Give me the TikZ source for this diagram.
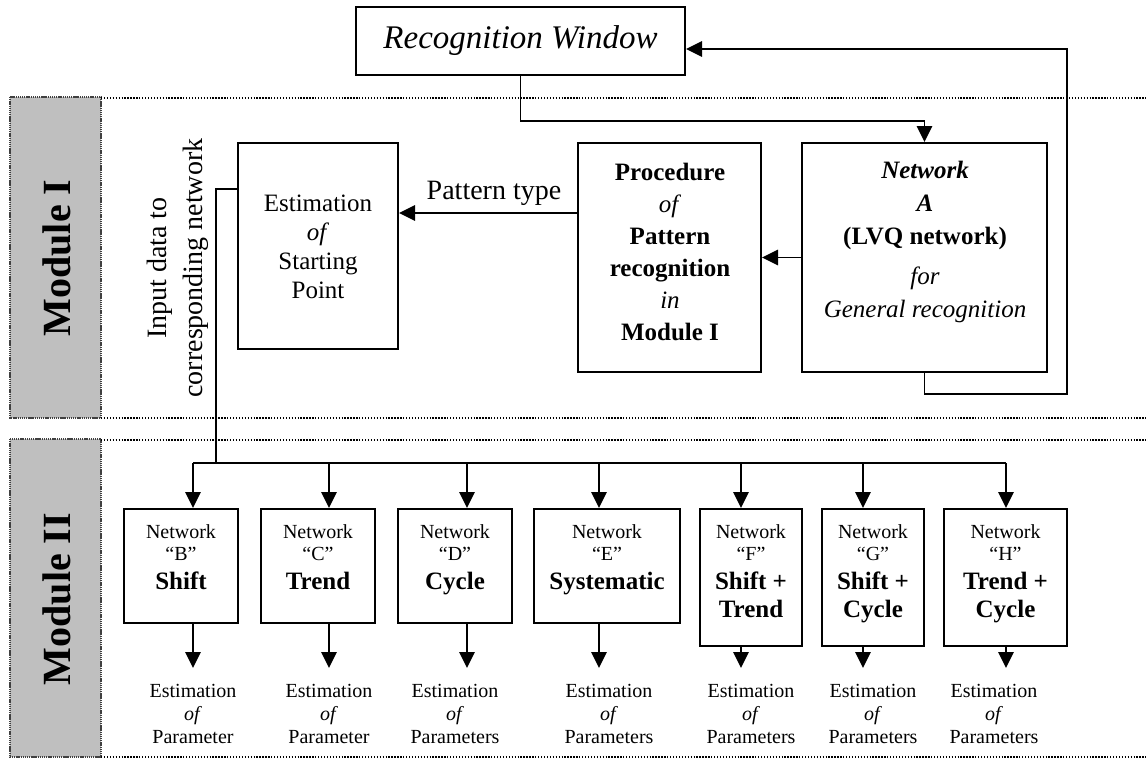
\documentclass[tikz,border=0pt]{standalone}
\usepackage{fontspec}
\setmainfont{Liberation Serif}
\usetikzlibrary{arrows.meta}
\begin{document}
\begin{tikzpicture}[x=0.75pt,y=-0.75pt,
  box/.style={draw, line width=1.5pt, inner sep=0pt},
  conn/.style={line width=1.35pt},
  arr/.style={conn, -{Triangle[length=12pt,width=11.5pt]}},
  dotline/.style={line width=1.3pt, dash pattern=on 1pt off 1.2pt},
  modbox/.style={fill=black!25, draw=black!75, line width=1pt, dash pattern=on 1pt off 0.6pt},
  txt/.style={align=center, inner sep=0pt},
  midfont/.style={font=\fontsize{18.75}{24}\selectfont},
  netfont/.style={font=\fontsize{15}{16.5}\selectfont},
  estfont/.style={font=\fontsize{15}{17.25}\selectfont},
  lowtxt/.style={txt, netfont, anchor=north},
]
\useasboundingbox (0,0) rectangle (1146,760);

% module bands
\draw[modbox] (10,97) rectangle (101,418);
\draw[modbox] (10,439) rectangle (101,757);
\node[rotate=90, font=\fontsize{30}{30}\selectfont\bfseries] (m1) at (57,258) {Module I};
\node[rotate=90, font=\fontsize{30}{30}\selectfont\bfseries] (m2) at (57,599) {Module II};
\draw[dotline] (101,98) -- (1146,98);
\draw[dotline] (101,418) -- (1146,418);
\draw[dotline] (101,440) -- (1146,440);
\draw[dotline] (101,757) -- (1146,757);

% top boxes
\node[box, minimum width=246.75pt, minimum height=51pt, font=\fontsize{24.75}{28}\selectfont\itshape] (RW) at (520.5,41) {Recognition Window};
\node[box, minimum width=120pt, minimum height=154.5pt] (E) at (318,246) {};
\node[txt, font=\fontsize{18.75}{21.75}\selectfont] (Et) at (318,247) {Estimation\\\textit{of}\\Starting\\Point};
\node[box, minimum width=137.25pt, minimum height=171.75pt] (P) at (669.5,257.5) {};
\node[txt, midfont] (Pt) at (670,252) {\textbf{Procedure}\\\textit{of}\\\textbf{Pattern}\\\textbf{recognition}\\\textit{in}\\\textbf{Module I}};
\node[box, minimum width=183.75pt, minimum height=171.75pt] (A) at (924.5,257.5) {};
\node[txt, font=\fontsize{18.75}{24.6}\selectfont] (At) at (925,242) {\textbf{\textit{Network}}\\\textbf{\textit{A}}\\\textbf{(LVQ network)}\\[6pt]\textit{for}\\\textit{General recognition}};

\node[txt, font=\fontsize{21}{27}\selectfont, rotate=90] (inp) at (178,268) {Input data to\\corresponding network};
\node[txt, font=\fontsize{21}{24}\selectfont] (ptype) at (494,193) {Pattern type};

% connectors in module I
\coordinate (rwA) at (924.5,121);
\draw[arr] (RW.south) |- (rwA) -- (A.north);
\coordinate (fbA) at (1067,394);
\coordinate (fbB) at (1067,49);
\draw[arr] (A.south) |- (fbA) -- (fbB) -- (RW.east |- fbB);
\draw[arr] (A.west) -- (P.east);
\coordinate (ptc) at (580,213);
\draw[arr] (P.west |- ptc) -- (E.east |- ptc);
\coordinate (busJ) at (216,463);
\draw[conn] (E.west |- 0,189) -| (busJ);

% module II boxes
\node[box, minimum width=85.5pt, minimum height=85.5pt] (B) at (181,566) {};
\node[box, minimum width=85.5pt, minimum height=85.5pt] (C) at (318,566) {};
\node[box, minimum width=85.5pt, minimum height=85.5pt] (D) at (455,566) {};
\node[box, minimum width=109.5pt, minimum height=85.5pt] (Eb) at (607,566) {};
\node[box, minimum width=76.5pt, minimum height=102.75pt] (F) at (751,577.5) {};
\node[box, minimum width=76.5pt, minimum height=102.75pt] (G) at (873,577.5) {};
\node[box, minimum width=92.25pt, minimum height=102.75pt] (H) at (1005.5,577.5) {};

\node[lowtxt] (Bt) at (181,524) {Network\\``B''\\[5.5pt]{\fontsize{18.75}{20}\selectfont\bfseries Shift}};
\node[lowtxt] (Ct) at (318,524) {Network\\``C''\\[5.5pt]{\fontsize{18.75}{20}\selectfont\bfseries Trend}};
\node[lowtxt] (Dt) at (455,524) {Network\\``D''\\[5.5pt]{\fontsize{18.75}{20}\selectfont\bfseries Cycle}};
\node[lowtxt] (Ebt) at (607,524) {Network\\``E''\\[5.5pt]{\fontsize{18.75}{20}\selectfont\bfseries Systematic}};
\node[lowtxt] (Ft) at (751,524) {Network\\``F''\\[5.5pt]{\fontsize{18.75}{20}\selectfont\bfseries Shift +}\\[4.5pt]{\fontsize{18.75}{20}\selectfont\bfseries Trend}};
\node[lowtxt] (Gt) at (873,524) {Network\\``G''\\[5.5pt]{\fontsize{18.75}{20}\selectfont\bfseries Shift +}\\[4.5pt]{\fontsize{18.75}{20}\selectfont\bfseries Cycle}};
\node[lowtxt] (Ht) at (1005.5,524) {Network\\``H''\\[5.5pt]{\fontsize{18.75}{20}\selectfont\bfseries Trend +}\\[4.5pt]{\fontsize{18.75}{20}\selectfont\bfseries Cycle}};

% estimation outputs
\node[txt, estfont, anchor=north] (oB) at (193,684) {Estimation\\\textit{of}\\Parameter};
\node[txt, estfont, anchor=north] (oC) at (329,684) {Estimation\\\textit{of}\\Parameter};
\node[txt, estfont, anchor=north] (oD) at (455,684) {Estimation\\\textit{of}\\Parameters};
\node[txt, estfont, anchor=north] (oE) at (609,684) {Estimation\\\textit{of}\\Parameters};
\node[txt, estfont, anchor=north] (oF) at (751,684) {Estimation\\\textit{of}\\Parameters};
\node[txt, estfont, anchor=north] (oG) at (873,684) {Estimation\\\textit{of}\\Parameters};
\node[txt, estfont, anchor=north] (oH) at (994,684) {Estimation\\\textit{of}\\Parameters};

% bus and arrows
\coordinate (bB) at (193,463);
\coordinate (bC) at (329,463);
\coordinate (bD) at (467,463);
\coordinate (bE) at (599,463);
\coordinate (bF) at (741,463);
\coordinate (bG) at (863,463);
\coordinate (bH) at (1006,463);
\draw[conn] (bB) -- (bH);
\foreach \n/\b in {bB/B,bC/C,bD/D,bE/Eb,bF/F,bG/G,bH/H}{
  \draw[arr] (\n) -- (\n |- \b.north);
  \draw[arr] (\n |- \b.south) -- (\n |- 0,668);
}
\end{tikzpicture}
\end{document}
